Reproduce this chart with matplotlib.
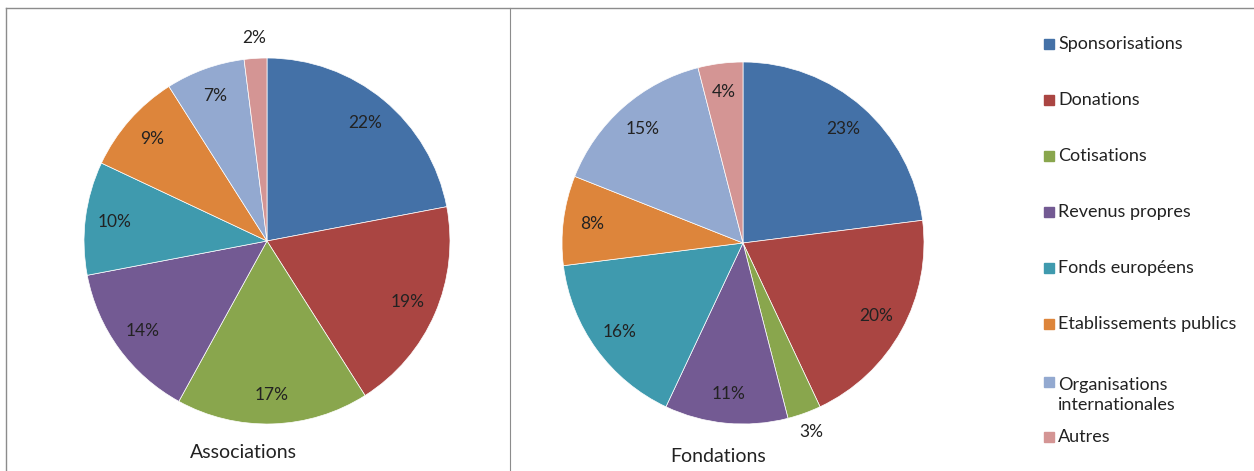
import matplotlib.pyplot as plt
import numpy as np
from matplotlib.lines import Line2D
from matplotlib.patches import Rectangle

plt.rcParams['font.family'] = ['Lato', 'DejaVu Sans']

# Data
categories = ['Sponsorisations', 'Donations', 'Cotisations', 'Revenus propres',
              'Fonds européens', 'Etablissements publics',
              'Organisations\ninternationales', 'Autres']
associations = [22, 19, 17, 14, 10, 9, 7, 2]
fondations = [23, 20, 3, 11, 16, 8, 15, 4]

colors = ['#4471a7', '#aa4542', '#89a64d', '#735a93', '#3f9aae',
          '#dd853b', '#93a9d0', '#d49594']

W, H = 1254, 471
fig = plt.figure(figsize=(W / 100, H / 100), dpi=100)


def draw_pie(values, cx, cy, r, title, title_xy):
    half = 210
    ax = fig.add_axes([(cx - half) / W, (H - cy - half) / H, 2 * half / W, 2 * half / H])
    wedges, texts, autotexts = ax.pie(
        values, colors=colors, startangle=90, counterclock=False,
        autopct='%d%%', pctdistance=0.84,
        wedgeprops=dict(edgecolor='white', linewidth=0.5),
        textprops=dict(fontsize=12.5, color='#222222'))
    # the tiniest slices get their label just outside the rim
    for w, t, v in zip(wedges, autotexts, values):
        if v < 4:
            ang = np.deg2rad((w.theta1 + w.theta2) / 2)
            t.set_position((1.11 * np.cos(ang), 1.11 * np.sin(ang)))
    ax.set_xlim(-half / r, half / r)
    ax.set_ylim(-half / r, half / r)
    ax.set_aspect('equal')
    ax.axis('off')
    fig.text(title_xy[0] / W, 1 - title_xy[1] / H, title, fontsize=14,
             ha='center', va='center', color='#222222')


draw_pie(associations, 267, 241, 183, 'Associations', (243, 453))
draw_pie(fondations, 743, 243, 181, 'Fondations', (718, 456))

# Frame lines
line_col = '#8c8c8c'
fig.add_artist(Line2D([6 / W, 1], [1 - 8 / H, 1 - 8 / H], color=line_col, lw=1))
fig.add_artist(Line2D([6 / W, 6 / W], [0, 1 - 8 / H], color=line_col, lw=1))
fig.add_artist(Line2D([510 / W, 510 / W], [0, 1 - 8 / H], color=line_col, lw=0.8))

# Legend
legend_y = [44, 100, 156, 212, 268, 324, 395, 437]
for lbl, c, y in zip(categories, colors, legend_y):
    top_y = y - 13 if '\n' in lbl else y
    fig.add_artist(Rectangle((1044 / W, 1 - (top_y + 5) / H), 10 / W, 10 / H,
                             color=c, transform=fig.transFigure))
    fig.text(1058 / W, 1 - y / H, lbl, fontsize=13, ha='left', va='center',
             color='#222222', linespacing=1.25)

fig.savefig('out.png', dpi=100)
